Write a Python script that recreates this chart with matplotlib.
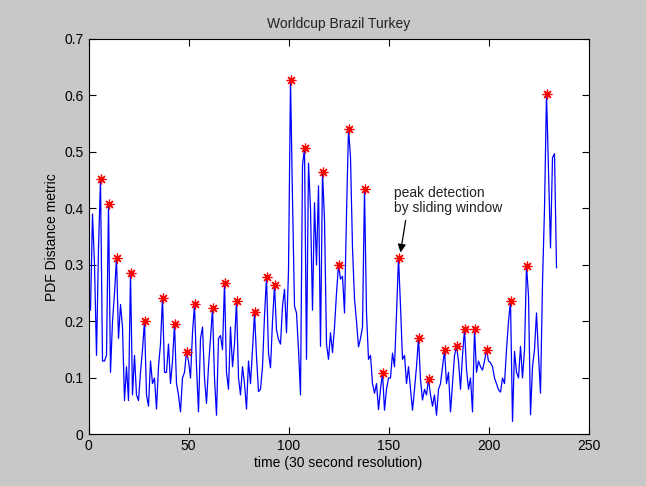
import numpy as np
import matplotlib.pyplot as plt

# PDF distance per 30 s window, index 1..234
dist = [
    0.22, 0.39, 0.30, 0.14, 0.33, 0.452, 0.13, 0.13, 0.14, 0.407,    # 1-10
    0.11, 0.20, 0.25, 0.313, 0.17, 0.23, 0.19, 0.06, 0.12, 0.06,     # 11-20
    0.285, 0.07, 0.14, 0.07, 0.06, 0.11, 0.15, 0.201, 0.07, 0.05,    # 21-30
    0.13, 0.09, 0.10, 0.045, 0.12, 0.16, 0.242, 0.11, 0.11, 0.16,    # 31-40
    0.09, 0.13, 0.195, 0.09, 0.07, 0.04, 0.10, 0.11, 0.146, 0.13,    # 41-50
    0.10, 0.18, 0.23, 0.12, 0.04, 0.17, 0.19, 0.10, 0.055, 0.12,     # 51-60
    0.17, 0.223, 0.10, 0.034, 0.17, 0.175, 0.15, 0.268, 0.11, 0.08,  # 61-70
    0.19, 0.12, 0.16, 0.237, 0.10, 0.07, 0.12, 0.09, 0.045, 0.13,    # 71-80
    0.09, 0.15, 0.216, 0.138, 0.076, 0.08, 0.12, 0.21, 0.278, 0.144, # 81-90
    0.118, 0.20, 0.264, 0.185, 0.168, 0.16, 0.227, 0.257, 0.18, 0.29,  # 91-100
    0.627, 0.416, 0.227, 0.215, 0.15, 0.07, 0.476, 0.507, 0.133, 0.48,  # 101-110
    0.40, 0.22, 0.41, 0.30, 0.44, 0.156, 0.464, 0.38, 0.16, 0.133,    # 111-120
    0.18, 0.145, 0.19, 0.25, 0.30, 0.275, 0.28, 0.215, 0.39, 0.541,   # 121-130
    0.49, 0.33, 0.24, 0.20, 0.155, 0.17, 0.19, 0.434, 0.215, 0.133,   # 131-140
    0.14, 0.09, 0.073, 0.09, 0.044, 0.08, 0.109, 0.043, 0.08, 0.10,   # 141-150
    0.10, 0.144, 0.12, 0.213, 0.313, 0.227, 0.133, 0.14, 0.09, 0.12,  # 151-160
    0.08, 0.043, 0.08, 0.12, 0.171, 0.097, 0.061, 0.08, 0.07, 0.098,  # 161-170
    0.07, 0.05, 0.07, 0.034, 0.08, 0.09, 0.12, 0.149, 0.09, 0.11,     # 171-180
    0.04, 0.09, 0.14, 0.156, 0.13, 0.08, 0.14, 0.186, 0.115, 0.08,    # 181-190
    0.10, 0.04, 0.187, 0.11, 0.13, 0.12, 0.114, 0.13, 0.15, 0.13,     # 191-200
    0.127, 0.12, 0.10, 0.09, 0.079, 0.075, 0.10, 0.09, 0.15, 0.20,    # 201-210
    0.236, 0.023, 0.147, 0.11, 0.10, 0.156, 0.10, 0.15, 0.299, 0.245, # 211-220
    0.035, 0.12, 0.15, 0.215, 0.14, 0.073, 0.268, 0.40, 0.603, 0.47,  # 221-230
    0.33, 0.49, 0.497, 0.295,                                         # 231-234
]

# windows flagged by the sliding-window peak detector
peaks = [6, 10, 14, 21, 28, 37, 43, 49, 53, 62, 68, 74, 83, 89, 93, 101,
         108, 117, 125, 130, 138, 147, 155, 165, 170, 178, 184, 188, 193,
         199, 211, 219, 229]

t = np.arange(1, len(dist) + 1)
dist = np.array(dist)
peaks = np.array(peaks)

plt.rcParams['font.family'] = ['Liberation Sans', 'DejaVu Sans']
plt.rcParams['font.size'] = 10

fig = plt.figure(figsize=(6.46, 4.86), dpi=100, facecolor='#c8c8c8')
ax = fig.add_axes([0.137, 0.106, 0.774, 0.814])

ax.plot(t, dist, color='#0000ff', linewidth=0.9)
ax.plot(peaks, dist[peaks - 1], linestyle='none', marker=(8, 2, 0),
        markersize=7, markeredgewidth=0.9, color='red')

ax.annotate('peak detection\nby sliding window', xy=(156, 0.322),
            xytext=(152.5, 0.44), ha='left', va='top', fontsize=10,
            linespacing=1.1, color='#222222',
            arrowprops=dict(arrowstyle='-|>', color='black', lw=0.9,
                            shrinkA=2, shrinkB=0, mutation_scale=12,
                            relpos=(0.12, 0.0)))

ax.set_xlim(0, 250)
ax.set_ylim(0, 0.7)
ax.set_xticks([0, 50, 100, 150, 200, 250])
ax.set_yticks(np.arange(0, 0.71, 0.1))
ax.set_yticklabels(['0', '0.1', '0.2', '0.3', '0.4', '0.5', '0.6', '0.7'])
ax.tick_params(direction='in', top=True, right=True, length=5, width=0.8)
for s in ax.spines.values():
    s.set_linewidth(0.8)

ax.set_title('Worldcup Brazil Turkey', fontsize=10, pad=8, color='#222222')
ax.set_xlabel('time (30 second resolution)', labelpad=2)
ax.set_ylabel('PDF Distance metric', labelpad=4)

fig.savefig('out.png', dpi=100, facecolor=fig.get_facecolor())
